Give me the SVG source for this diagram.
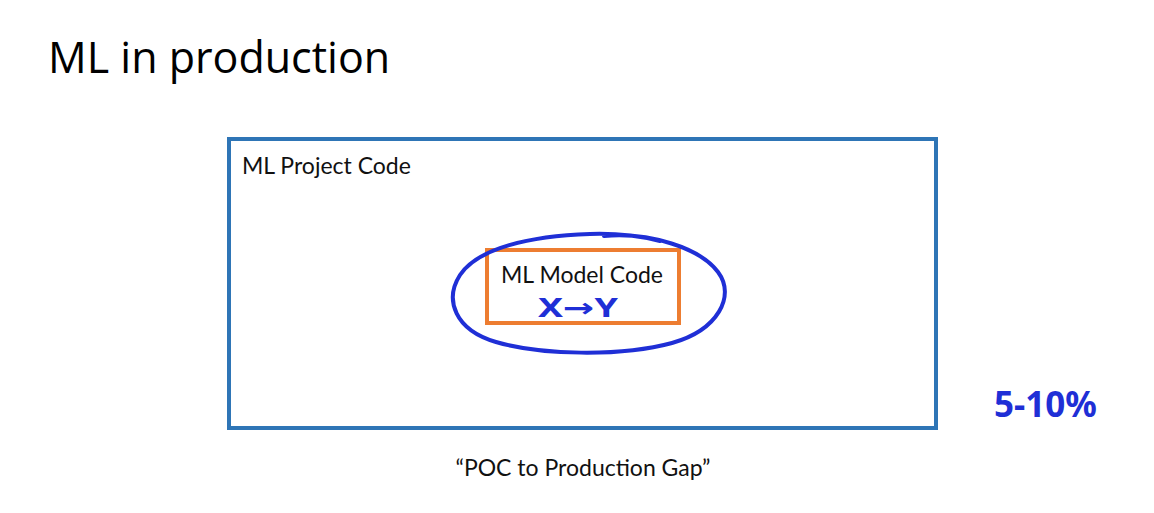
<svg xmlns="http://www.w3.org/2000/svg" width="1154" height="513" viewBox="0 0 1154 513">
  <style>
    .title { font-family: "Open Sans", "Noto Sans", sans-serif; font-size: 43px; fill: #000; }
    .label { font-family: Lato, "Noto Sans", sans-serif; font-size: 23px; fill: #111; }
    .ink { font-family: "Noto Sans", "DejaVu Sans", sans-serif; font-weight: bold; fill: #1f2fd6; }
    .pen { fill: none; stroke: #1f2fd6; stroke-width: 4; stroke-linecap: round; stroke-linejoin: round; }
  </style>
  <rect width="1154" height="513" fill="#ffffff"/>

  <text class="title" x="48" y="73">ML in production</text>

  <g id="project-code">
    <rect x="229" y="139" width="707" height="289" fill="none" stroke="#2e75b6" stroke-width="4"/>
    <text class="label" x="242" y="174">ML Project Code</text>
  </g>

  <g id="model-code">
    <rect x="487" y="250" width="192" height="73" fill="none" stroke="#ed7d31" stroke-width="4"/>
    <text class="label" x="582" y="283" text-anchor="middle">ML Model Code</text>
    <text class="ink" x="578" y="317" font-size="26" text-anchor="middle" textLength="80" lengthAdjust="spacingAndGlyphs">X→Y</text>
  </g>

  <g id="connectors">
    <!-- freehand loop around the model code -->
    <path class="pen" d="M 604 236 C 650 232 700 248 718 272 C 736 296 718 330 672 343 C 620 357 540 355 496 342 C 455 330 444 300 460 275 C 478 248 530 236 590 234 C 620 233 640 236 660 241"/>
  </g>

  <g id="share-note">
    <text class="ink" x="994" y="417" font-size="35">5-10%</text>
  </g>

  <text class="label" x="583" y="476" text-anchor="middle">“POC to Production Gap”</text>
</svg>
